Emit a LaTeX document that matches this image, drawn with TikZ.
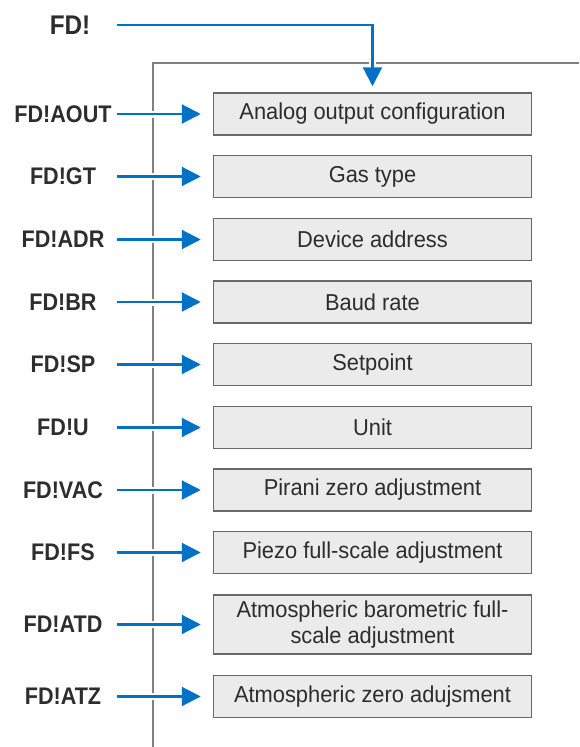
\documentclass[tikz,border=0pt]{standalone}
\usepackage{fontspec}
\setmainfont{Liberation Sans}
\newfontfamily\cmdfont[FakeStretch=0.9]{Liberation Sans}
\newfontfamily\menufont[FakeStretch=0.95]{Liberation Sans}
\usetikzlibrary{arrows.meta,positioning}
\definecolor{fdblue}{RGB}{0,114,198}
\definecolor{boxgray}{RGB}{235,235,235}
\definecolor{linegray}{RGB}{105,105,105}
\definecolor{framegray}{RGB}{128,128,128}
\definecolor{textgray}{RGB}{45,45,45}

\begin{document}
\begin{tikzpicture}
[x=1pt, y=-1pt, >={Triangle[length=19pt, width=19pt]},
command/.style={inner sep=0pt, minimum width=108pt, text=textgray, font=\cmdfont\fontsize{24}{28}\selectfont\bfseries},
menu/.style={rectangle, draw=linegray, line width=1.5pt, fill=boxgray, inner sep=0pt, minimum width=318pt, minimum height=42pt, text=textgray, align=center, font=\menufont\fontsize{23}{26}\selectfont},
link/.style={<-, draw=fdblue, line width=2.2pt, shorten <=12pt, preaction={draw=white, line width=7pt, arrows=-}}]

\useasboundingbox (0,0) rectangle (579,747);
\draw[framegray, line width=1.8pt] (153,747) |- (579,63);

\node[command, minimum width=94pt, font=\cmdfont\fontsize{27}{30}\selectfont\bfseries] (fd) at (70,25) {FD!};
\node[command] (aout) at (63,114) {FD!AOUT};
\node[command] (gt) at (63,176.5) {FD!GT};
\node[command] (adr) at (63,239.5) {FD!ADR};
\node[command] (br) at (63,302) {FD!BR};
\node[command] (sp) at (63,364.5) {FD!SP};
\node[command] (u) at (63,427.5) {FD!U};
\node[command] (vac) at (63,490) {FD!VAC};
\node[command] (fs) at (63,552.5) {FD!FS};
\node[command] (atd) at (63,624.5) {FD!ATD};
\node[command] (atz) at (63,696.5) {FD!ATZ};

\node[menu] (analogOut) at (372.5,114) {Analog output configuration}
  edge [link] (aout);
\node[menu] (gasType) at (372.5,176.5) {Gas type}
  edge [link] (gt);
\node[menu] (devAddress) at (372.5,239.5) {Device address}
  edge [link] (adr);
\node[menu] (baudRate) at (372.5,302) {Baud rate}
  edge [link] (br);
\node[menu] (setpoint) at (372.5,364.5) {Setpoint}
  edge [link] (sp);
\node[menu] (unit) at (372.5,427.5) {Unit}
  edge [link] (u);
\node[menu] (piraniZero) at (372.5,490) {Pirani zero adjustment}
  edge [link] (vac);
\node[menu] (piezoFull) at (372.5,552.5) {Piezo full-scale adjustment}
  edge [link] (fs);
\node[menu, minimum height=59pt] (atmBaro) at (372.5,624.5) {Atmospheric barometric full-\\scale adjustment}
  edge [link] (atd);
\node[menu] (atmZero) at (372.5,696.5) {Atmospheric zero adujsment}
  edge [link] (atz);

\draw[link, shorten <=6pt] (analogOut) |- (fd);
\end{tikzpicture}
\end{document}
